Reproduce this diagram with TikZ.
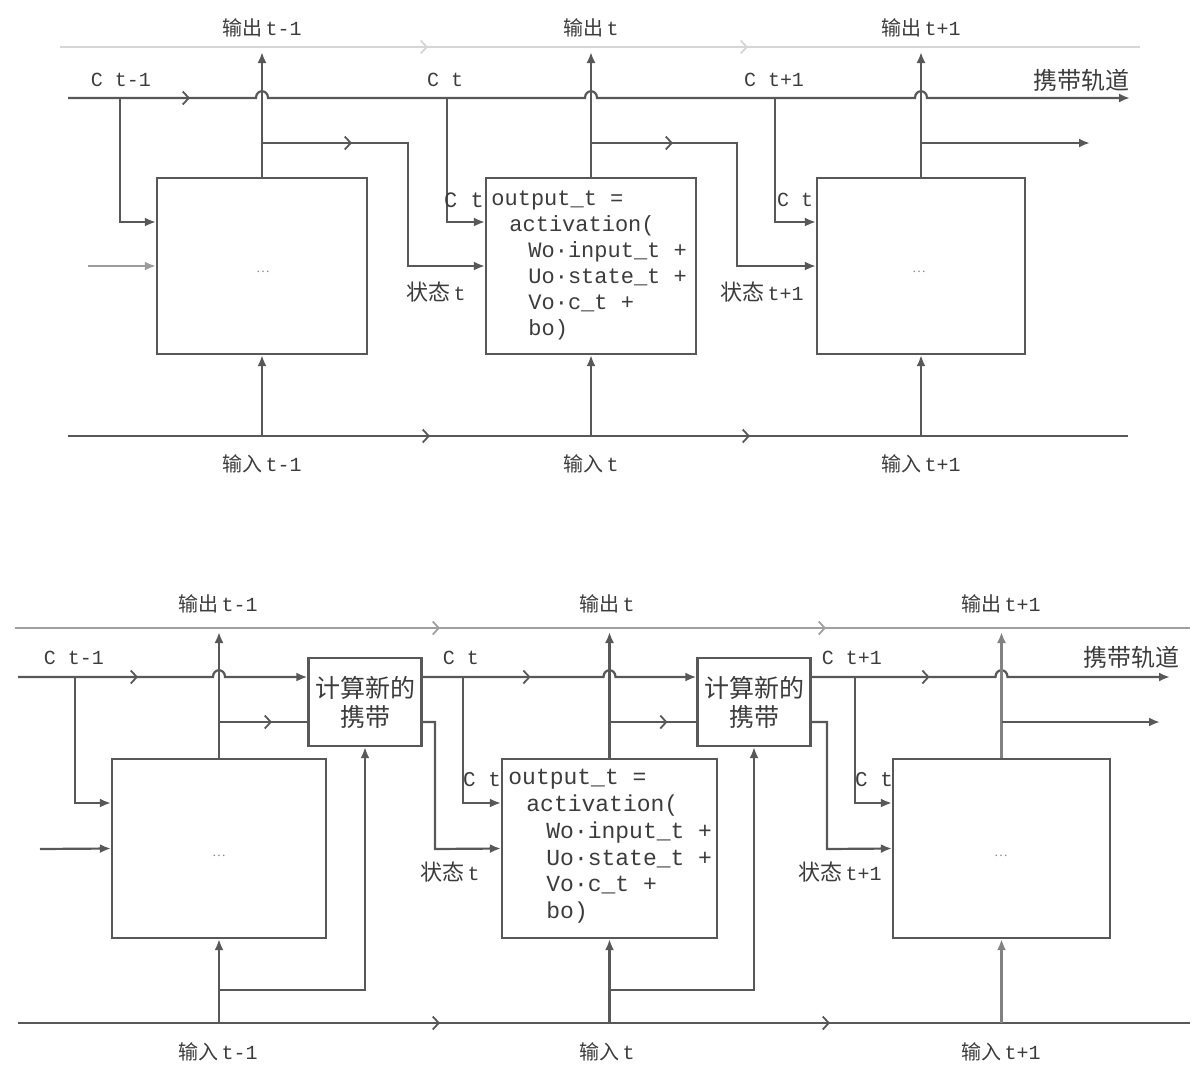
\documentclass[tikz,border=0pt]{standalone}
\usepackage{fontspec}
\setmainfont{Liberation Serif}
\setmonofont{Liberation Mono}
\newfontfamily\cjk{Noto Sans CJK SC}
\usetikzlibrary{arrows.meta,decorations.markings,calc}
\definecolor{lc}{HTML}{585858}
\definecolor{tc}{HTML}{3C3C3C}
\definecolor{fc}{HTML}{D6D6D6}
\definecolor{fcb}{HTML}{A0A0A0}
\begin{document}
\begin{tikzpicture}[x=0.5pt,y=-0.5pt,
  ln/.style={draw=lc, line width=1.1pt},
  fa/.style={-{Latex[length=5.5pt,width=4.5pt]}},
  box/.style={draw=lc, line width=1.1pt, rectangle, inner sep=0pt, fill=white},
  lbl/.style={text=tc, font=\fontsize{10}{12}\selectfont, inner sep=1pt},
  zh/.style={text=tc, font=\cjk\fontsize{11}{13}\selectfont, inner sep=1pt},
  code/.style={text=tc, inner sep=0pt, align=left},
  dots/.style={text=tc!60, font=\scriptsize},
  chev/.style={postaction={decorate,decoration={markings,mark=at position #1 with {\arrow[line width=0.9pt]{Straight Barb[length=3pt,width=6.5pt]}}}}}
]
\useasboundingbox (0,0) rectangle (1196,1067);

% ===================== TOP DIAGRAM =====================
\coordinate (tyC) at (0,222);
\coordinate (tyK) at (0,98);
% faint output line
\draw[draw=fc, line width=1pt, chev=184pt, chev=344pt] (60,47) coordinate (tf0) -- (1140,47) coordinate (tf1);
% input line
\draw[ln, chev=181pt, chev=341pt] (68,436) coordinate (ti0) -- (1128,436) coordinate (ti1);

% boxes
\node[box, minimum width=105pt, minimum height=88pt] (tb1) at (262,266) {};
\node[box, minimum width=105pt, minimum height=88pt] (tb2) at (591,266) {};
\node[box, minimum width=104pt, minimum height=88pt] (tb3) at (921,266) {};
\node[dots] (td1) at (263,272) {\ldots};
\node[dots] (td3) at (919,272) {\ldots};

% carry line with hops
\draw[ln, fa, chev=61pt] (68,98) coordinate (tk0) -- (256,98)
  .. controls (256,89) and (268,89) .. (268,98) -- (585,98)
  .. controls (585,89) and (597,89) .. (597,98) -- (915,98)
  .. controls (915,89) and (927,89) .. (927,98) -- (1130,98) coordinate (tk1);

% output verticals
\coordinate (to1) at (262,52);
\coordinate (to2) at (591,52);
\coordinate (to3) at (921,52);
\draw[ln, fa] (tb1.north) -- (to1);
\draw[ln, fa] (tb2.north) -- (to2);
\draw[ln, fa] (tb3.north) -- (to3);

% carry drops
\coordinate (tc1) at (120,98);
\coordinate (tc2) at (447,98);
\coordinate (tc3) at (775,98);
\draw[ln, fa] (tc1) |- (tb1.west |- tyC);
\draw[ln, fa] (tc2) |- (tb2.west |- tyC);
\draw[ln, fa] (tc3) |- (tb3.west |- tyC);

% state branches
\coordinate (ts1) at (262,143);
\coordinate (ts2) at (591,143);
\coordinate (ts3) at (921,143);
\draw[ln, fa, chev=45pt] (ts1) -| (408,266) -- (tb2.west);
\draw[ln, fa, chev=41pt] (ts2) -| (737,266) -- (tb3.west);
\coordinate (ts3e) at (1090,143);
\draw[ln, fa] (ts3) -- (ts3e);
\coordinate (tl0) at (88,266);
\draw[draw=lc!60, line width=1.1pt, fa] (tl0) -- (tb1.west);

% input verticals
\draw[ln, fa] (262,436) coordinate (tiv1) -- (tb1.south);
\draw[ln, fa] (591,436) coordinate (tiv2) -- (tb2.south);
\draw[ln, fa] (921,436) coordinate (tiv3) -- (tb3.south);

% code text
\node[code, anchor=north west, font=\ttfamily\fontsize{11}{13}\selectfont] (tcode) at (491,190)
 {output\_t =\\\hspace*{9pt}activation(\\\hspace*{18.5pt}Wo·input\_t +\\\hspace*{18.5pt}Uo·state\_t +\\\hspace*{18.5pt}Vo·c\_t +\\\hspace*{18.5pt}bo)};

% labels
\node[lbl] (tlo1) at (262,28) {{\cjk 输出}\,\texttt{t-1}};
\node[lbl] (tlo2) at (591,28) {{\cjk 输出}\,\texttt{t}};
\node[lbl] (tlo3) at (921,28) {{\cjk 输出}\,\texttt{t+1}};
\node[lbl] (tli1) at (262,464) {{\cjk 输入}\,\texttt{t-1}};
\node[lbl] (tli2) at (591,464) {{\cjk 输入}\,\texttt{t}};
\node[lbl] (tli3) at (921,464) {{\cjk 输入}\,\texttt{t+1}};
\node[lbl, font=\ttfamily\fontsize{10}{12}\selectfont] (tlc1) at (121,80) {C t-1};
\node[lbl, font=\ttfamily\fontsize{10}{12}\selectfont] (tlc2) at (445,80) {C t};
\node[lbl, font=\ttfamily\fontsize{10}{12}\selectfont] (tlc3) at (774,80) {C t+1};
\node[zh, font=\cjk\fontsize{12}{14}\selectfont] (tlk) at (1081,80) {携带轨道};
\node[lbl, font=\ttfamily\fontsize{11}{13}\selectfont] (tlct2) at (464,200) {C t};
\node[lbl, font=\ttfamily\fontsize{10}{12}\selectfont] (tlct3) at (795,200) {C t};
\node[lbl] (tls2) at (436,292) {{\cjk\fontsize{11}{13}\selectfont 状态}\,\texttt{t}};
\node[lbl] (tls3) at (762,292) {{\cjk\fontsize{11}{13}\selectfont 状态}\,\texttt{t+1}};

% ===================== BOTTOM DIAGRAM =====================
\coordinate (byK) at (0,677);
\coordinate (byB) at (0,722);
\coordinate (byC) at (0,803);
% faint output line
\draw[draw=fcb, line width=0.9pt, chev=212.5pt, chev=405.5pt] (15,628) coordinate (bf0) -- (1190,628) coordinate (bf1);
% input line
\draw[ln, chev=211pt, chev=406pt] (18,1023) coordinate (bi0) -- (1190,1023) coordinate (bi1);

% boxes
\node[box, minimum width=107pt, minimum height=89.5pt] (bb1) at (219,848.5) {};
\node[box, minimum width=107.5pt, minimum height=89.5pt] (bb2) at (609.5,848.5) {};
\node[box, minimum width=108.5pt, minimum height=89.5pt] (bb3) at (1001.5,848.5) {};
\node[dots] (bd1) at (219,856) {\ldots};
\node[dots] (bd3) at (1001,856) {\ldots};
\node[box, minimum width=56.5pt, minimum height=44pt, text=tc, align=center,
      font=\cjk\fontsize{12.5}{14.5}\selectfont] (bk1) at (365,702) {计算新的\\携带};
\node[box, minimum width=56.5pt, minimum height=44pt, text=tc, align=center,
      font=\cjk\fontsize{12.5}{14.5}\selectfont] (bk2) at (754,702) {计算新的\\携带};

% carry line segments with hops
\draw[ln, fa, chev=60pt] (18,677) coordinate (bk0) -- (213,677)
  .. controls (213,668) and (225,668) .. (225,677) -- (bk1.west |- byK);
\draw[ln, fa, chev=54pt] (bk1.east |- byK) -- (603.5,677)
  .. controls (603.5,668) and (615.5,668) .. (615.5,677) -- (bk2.west |- byK);
\coordinate (bkend) at (1170,677);
\draw[ln, fa, chev=59pt] (bk2.east |- byK) -- (995.5,677)
  .. controls (995.5,668) and (1007.5,668) .. (1007.5,677) -- (bkend);

% output verticals
\coordinate (bo1) at (219,632);
\coordinate (bo2) at (609.5,632);
\coordinate (bo3) at (1001.5,632);
\draw[ln, fa] (bb1.north) -- (bo1);
\draw[ln, fa] (bb2.north) -- (bo2);
\draw[draw=lc!75, line width=1.1pt, fa] (bb3.north) -- (bo3);

% branches to compute boxes
\draw[ln, chev=26.5pt] (219,722) coordinate (bs1) -- (bk1.west |- byB);
\draw[ln, chev=29pt] (609.5,722) coordinate (bs2) -- (bk2.west |- byB);
\coordinate (bs3e) at (1160,722);
\draw[ln, fa] (1001.5,722) coordinate (bs3) -- (bs3e);

% new state into next box
\draw[ln, fa] (bk1.east |- byB) -| (435,849) -- (bb2.west);
\draw[ln, fa] (bk2.east |- byB) -| (827,849) -- (bb3.west);

% carry drops
\coordinate (bc1) at (75,677);
\coordinate (bc2) at (463,677);
\coordinate (bc3) at (855,677);
\draw[ln, fa] (bc1) |- (bb1.west |- byC);
\draw[ln, fa] (bc2) |- (bb2.west |- byC);
\draw[ln, fa] (bc3) |- (bb3.west |- byC);

% left input
\coordinate (bl0) at (40,849);
\draw[ln, fa] (bl0) -- (bb1.west);

% input verticals
\draw[ln, fa] (219,1023) coordinate (biv1) -- (bb1.south);
\draw[ln, fa] (609.5,1023) coordinate (biv2) -- (bb2.south);
\draw[draw=lc!75, line width=1.1pt, fa] (1001.5,1023) coordinate (biv3) -- (bb3.south);
\draw[ln, fa] (219,990) coordinate (bj1) -| (bk1.south);
\draw[ln, fa] (609.5,990) coordinate (bj2) -| (bk2.south);

% code text
\node[code, anchor=north west, font=\ttfamily\fontsize{11.5}{13.4}\selectfont] (bcode) at (508,769)
 {output\_t =\\\hspace*{9pt}activation(\\\hspace*{19pt}Wo·input\_t +\\\hspace*{19pt}Uo·state\_t +\\\hspace*{19pt}Vo·c\_t +\\\hspace*{19pt}bo)};

% labels
\node[lbl] (blo1) at (218,604) {{\cjk 输出}\,\texttt{t-1}};
\node[lbl] (blo2) at (607,604) {{\cjk 输出}\,\texttt{t}};
\node[lbl] (blo3) at (1001,604) {{\cjk 输出}\,\texttt{t+1}};
\node[lbl] (bli1) at (218,1052) {{\cjk 输入}\,\texttt{t-1}};
\node[lbl] (bli2) at (607,1052) {{\cjk 输入}\,\texttt{t}};
\node[lbl] (bli3) at (1001,1052) {{\cjk 输入}\,\texttt{t+1}};
\node[lbl, font=\ttfamily\fontsize{10}{12}\selectfont] (blc1) at (74,658) {C t-1};
\node[lbl, font=\ttfamily\fontsize{10}{12}\selectfont] (blc2) at (461,658) {C t};
\node[lbl, font=\ttfamily\fontsize{10}{12}\selectfont] (blc3) at (852,658) {C t+1};
\node[zh, font=\cjk\fontsize{12}{14}\selectfont] (blk) at (1131,657) {携带轨道};
\node[lbl, font=\ttfamily\fontsize{10.5}{12}\selectfont] (blct2) at (482,780) {C t};
\node[lbl, font=\ttfamily\fontsize{10.5}{12}\selectfont] (blct3) at (874,780) {C t};
\node[lbl] (bls2) at (450,872) {{\cjk\fontsize{11}{13}\selectfont 状态}\,\texttt{t}};
\node[lbl] (bls3) at (840,872) {{\cjk\fontsize{11}{13}\selectfont 状态}\,\texttt{t+1}};
\end{tikzpicture}
\end{document}
